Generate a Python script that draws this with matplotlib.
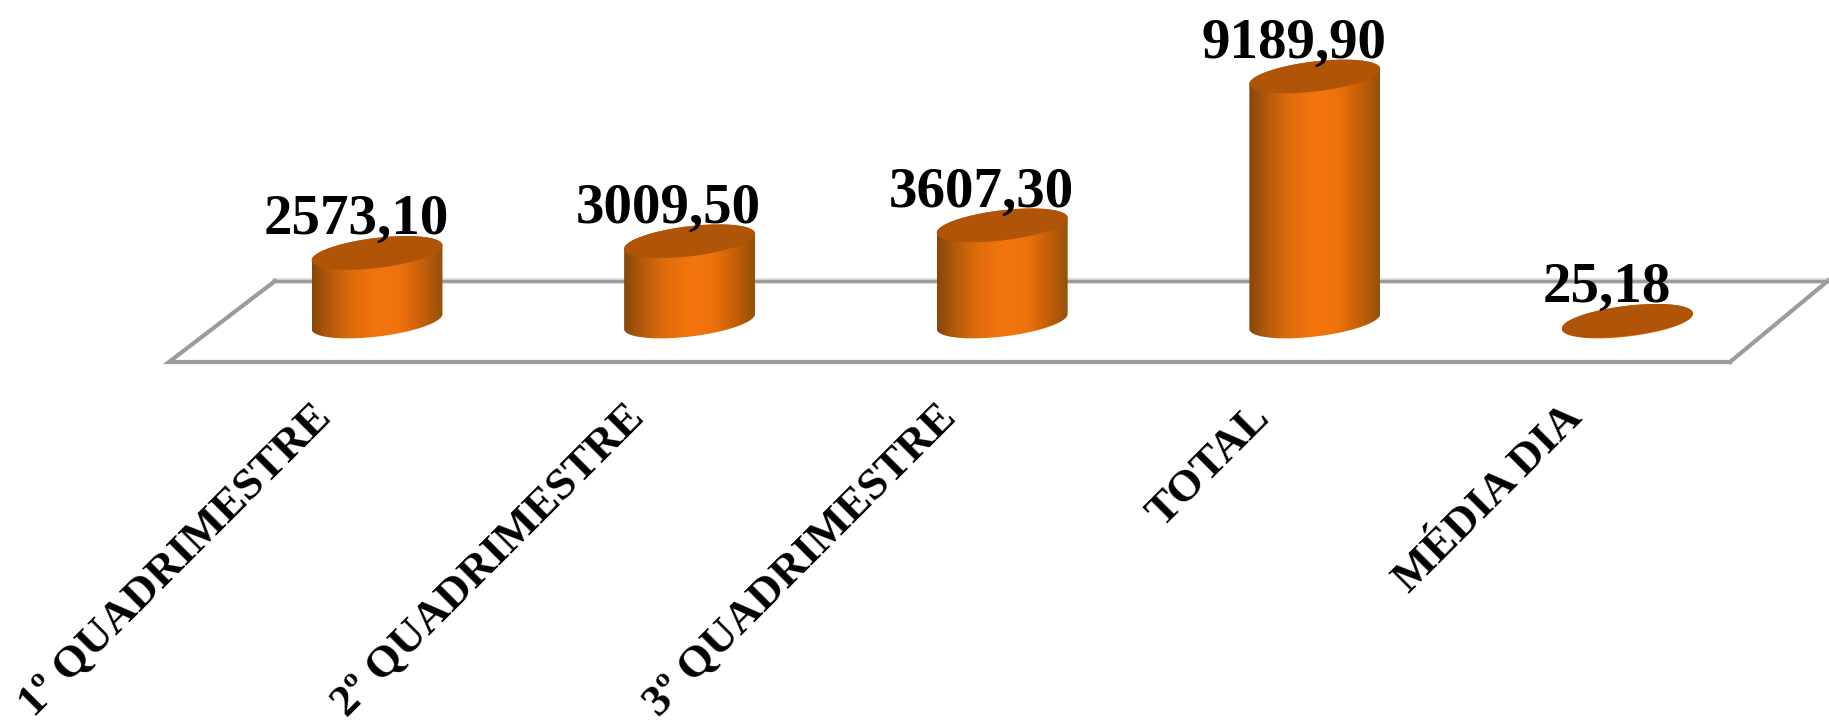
import numpy as np
import matplotlib
matplotlib.use('Agg')
import matplotlib.pyplot as plt
from matplotlib.colors import LinearSegmentedColormap
from matplotlib.patches import Polygon
from matplotlib.transforms import ScaledTranslation

categories = ['1º QUADRIMESTRE', '2º QUADRIMESTRE', '3º QUADRIMESTRE', 'TOTAL', 'MÉDIA DIA']
values = [2573.10, 3009.50, 3607.30, 9189.90, 25.18]
value_labels = ['2573,10', '3009,50', '3607,30', '9189,90', '25,18']

W, H = 1829, 725
PX_PER_CAT = 312.6       # pixels between two bars
PX_PER_UNIT = 0.02666    # pixels per unit of value
X0 = 377                 # pixel of first bar
Y0 = 321.5               # pixel from top of value 0
FLOOR_Y = 362

plt.rcParams['font.family'] = ['Liberation Serif', 'DejaVu Serif']

fig = plt.figure(figsize=(W / 100, H / 100), dpi=100)
ax = fig.add_axes([0, (H - FLOOR_Y) / H, 1, FLOOR_Y / H])
ax.set_xlim(-X0 / PX_PER_CAT, (W - X0) / PX_PER_CAT)
ax.set_ylim(-(FLOOR_Y - Y0) / PX_PER_UNIT, Y0 / PX_PER_UNIT)
for s in ax.spines.values():
    s.set_visible(False)
ax.yaxis.set_visible(False)
ax.patch.set_alpha(0)


def dx(px):
    return px / PX_PER_CAT


def dy(px):
    return px / PX_PER_UNIT


# floor of the 3d chart, given in pixels
def floor_pt(xp, yp):
    return (xp - X0) / PX_PER_CAT, (Y0 - yp) / PX_PER_UNIT


fl = [floor_pt(*p) for p in [(1829, 281), (275, 281), (169, 362), (1730, 362), (1835, 275)]]
fx, fy = zip(*fl)
ax.plot(fx[:2], fy[:2], color='#d4d4d4', lw=4, zorder=1, clip_on=False)
ax.plot(fx[:2], fy[:2], color='#989898', lw=2, zorder=1.1, clip_on=False)
ax.plot(fx[1:4], fy[1:4], color='#9c9c9c', lw=3, zorder=1.2, clip_on=False, solid_joinstyle='miter')
ax.plot(fx[3:], fy[3:], color='#9c9c9c', lw=3, zorder=1.2, clip_on=False)

# tilted ellipse used for the cylinder ends
A, B, THETA = 65.9, 15.0, np.radians(6.9)
cmap = LinearSegmentedColormap.from_list('cyl', [
    (0.0, '#85470c'), (0.12, '#b0590a'), (0.3, '#dd6c0c'), (0.5, '#f4750d'),
    (0.68, '#ee720c'), (0.85, '#c45f08'), (1.0, '#95500a')])
grad = np.linspace(0, 1, 256).reshape(1, -1)


def ellipse_px(t):
    ex = A * np.cos(t) * np.cos(THETA) - B * np.sin(t) * np.sin(THETA)
    ey = A * np.cos(t) * np.sin(THETA) + B * np.sin(t) * np.cos(THETA)
    return ex, ey


t_right = np.arctan2(-B * np.sin(THETA), A * np.cos(THETA))
half_w = ellipse_px(t_right)[0]

for i, v in enumerate(values):
    tt = np.linspace(t_right - np.pi, t_right, 80)     # lower side of the ellipse
    ex, ey = ellipse_px(tt)
    tt2 = np.linspace(t_right, t_right + np.pi, 80)    # upper side of the ellipse
    ux, uy = ellipse_px(tt2)
    xs = np.r_[i + dx(ex), i + dx(ux)]
    ys = np.r_[dy(ey), v + dy(uy)]
    body = Polygon(np.c_[xs, ys], closed=True, transform=ax.transData, fc='none', ec='none')
    ax.add_patch(body)
    im = ax.imshow(grad, cmap=cmap, aspect='auto', zorder=3, interpolation='bilinear',
                   extent=[i - dx(half_w), i + dx(half_w), dy(-40), v + dy(40)])
    im.set_clip_path(body)

    full = np.linspace(0, 2 * np.pi, 160)
    tx, ty = ellipse_px(full)
    ax.fill(i + dx(tx), v + dy(ty), color='#b05507', lw=0, zorder=4)

    ax.text(i - dx(21), v + dy(19), value_labels[i], ha='center', va='baseline',
            fontsize=41, fontweight='bold', color='black', zorder=5, clip_on=False)

ax.set_xlim(-X0 / PX_PER_CAT, (W - X0) / PX_PER_CAT)
ax.set_ylim(-(FLOOR_Y - Y0) / PX_PER_UNIT, Y0 / PX_PER_UNIT)

ax.set_xticks(range(len(categories)))
ax.set_xticklabels(categories, rotation=45, ha='right', va='top', rotation_mode='anchor',
                   fontsize=32.5, fontweight='bold')
ax.tick_params(axis='x', length=0, pad=0)
shift = ScaledTranslation(-0.66, -0.35, fig.dpi_scale_trans)
for lab in ax.get_xticklabels():
    lab.set_transform(lab.get_transform() + shift)

fig.savefig('out.png', dpi=100, facecolor='white')
